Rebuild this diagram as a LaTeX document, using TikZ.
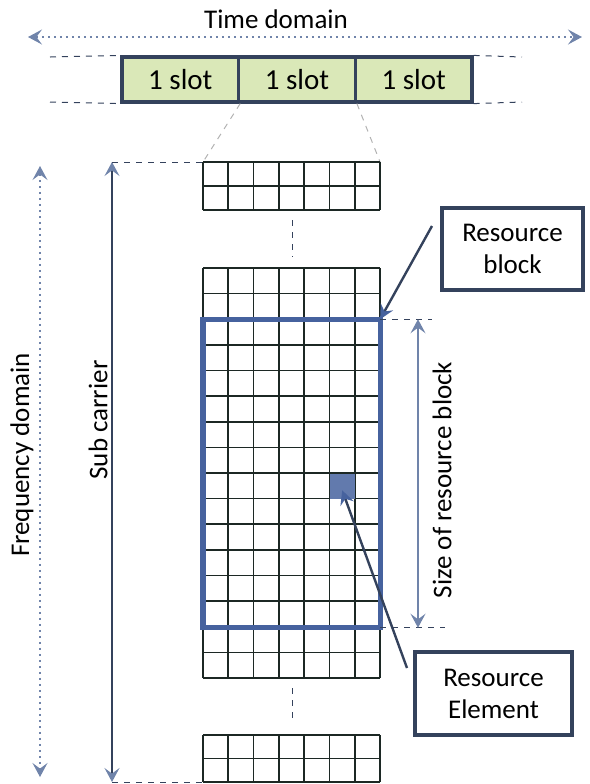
\documentclass[tikz,border=0pt]{standalone}
\usepackage{fontspec}
\setmainfont{Carlito}
\usetikzlibrary{arrows.meta,positioning}

\definecolor{rbblue}{RGB}{70,98,158}
\definecolor{boxedge}{RGB}{52,66,92}
\definecolor{slotfill}{RGB}{218,232,184}
\definecolor{axisgray}{RGB}{112,132,170}
\definecolor{gridink}{RGB}{28,40,36}

\begin{document}
\begin{tikzpicture}[
    x=0.5pt, y=-0.5pt,
    font=\fontsize{13.5}{16}\selectfont,
    tip/.style={-{Stealth[length=7pt,width=7pt,inset=2.5pt,color=rbblue]}},
    biaxis/.style={{Stealth[length=7pt,width=7.5pt,inset=2.8pt,color=axisgray]}-{Stealth[length=7pt,width=7.5pt,inset=2.8pt,color=axisgray]}, axisgray, line width=0.6pt},
    dotaxis/.style={biaxis, dash pattern=on 1pt off 2pt},
    guide/.style={dashed, boxedge, line width=0.5pt},
    gridline/.style={gridink, line width=0.85pt},
    slotbox/.style={draw=boxedge, line width=1.6pt, fill=slotfill, minimum width=58.3pt, minimum height=22.5pt, inner sep=0pt, font=\fontsize{14.5}{16}\selectfont},
    callout/.style={draw=boxedge, line width=1.6pt, fill=white, align=center, inner sep=0pt},
    pointer/.style={tip, boxedge, line width=1.2pt}
  ]
  \useasboundingbox (0,0) rectangle (590,784);

  % time axis and slots
  \node (time) at (276,19) {Time domain};
  \coordinate (tdL) at (28,37);
  \coordinate (tdR) at (582,37);
  \draw[dotaxis] (tdL) -- (tdR);
  \node[slotbox] (s1) at (180.3,79.5) {1 slot};
  \node[slotbox] (s2) at (297,79.5) {1 slot};
  \node[slotbox] (s3) at (413.7,79.5) {1 slot};
  \coordinate (slL1) at (50,57);
  \coordinate (slL2) at (50,102);
  \coordinate (slR1) at (522,57);
  \coordinate (slR2) at (522,102);
  \draw[guide] (slL1) -- (s1.north west);
  \draw[guide] (slL2) -- (s1.south west);
  \draw[guide] (s3.north east) -- (slR1);
  \draw[guide] (s3.south east) -- (slR2);

  % top grid
  \coordinate (gtl) at (203,162);
  \coordinate (gtr) at (380.1,162);
  \draw[guide, gray!60] (s1.south east) -- (gtl);
  \draw[guide, gray!60] (s2.south east) -- (gtr);
  \foreach \i in {0,...,7}
    \draw[gridline] ({203+25.3*\i},162) -- ({203+25.3*\i},210);
  \foreach \j in {0,1,2}
    \draw[gridline] (203,{162+24*\j}) -- (380.1,{162+24*\j});

  % middle grid
  \foreach \i in {0,...,7}
    \draw[gridline] ({203+25.3*\i},268) -- ({203+25.3*\i},678);
  \foreach \j in {0,...,16}
    \draw[gridline] (203,{268+25.625*\j}) -- (380.1,{268+25.625*\j});

  % bottom grid
  \foreach \i in {0,...,7}
    \draw[gridline] ({203+25.3*\i},735) -- ({203+25.3*\i},782);
  \foreach \j in {0,1,2}
    \draw[gridline] (203,{735+23.5*\j}) -- (380.1,{735+23.5*\j});

  \coordinate (gd1) at (292,220);
  \coordinate (gd2) at (292,257);
  \coordinate (gd3) at (292,688);
  \coordinate (gd4) at (292,723);
  \draw[guide] (gd1) -- (gd2);
  \draw[guide] (gd3) -- (gd4);

  % resource block and element
  \coordinate (rbNW) at (203,319.25);
  \coordinate (rbNE) at (380.1,319.25);
  \coordinate (rbSE) at (380.1,627.75);
  \draw[rbblue, line width=2.6pt] (rbNW) rectangle (rbSE);
  \node[fill=rbblue!85, minimum width=12.65pt, minimum height=12.8pt, inner sep=0pt] (re) at (342.25,486.4) {};

  % callouts
  \node[callout, minimum width=70.5pt, minimum height=41pt] (rb) at (512.5,249) {Resource\\block};
  \node[callout, minimum width=78.5pt, minimum height=41.5pt] (rel) at (493.5,693.5) {Resource\\Element};
  \coordinate (rbtail) at (432,226);
  \coordinate (retail) at (407,668);
  \draw[pointer] (rbtail) -- (rbNE);
  \draw[pointer] (retail) -- ([yshift=-2pt]re.center);

  % size of resource block
  \coordinate (szt) at (432,319.25);
  \coordinate (szb) at (445,627.75);
  \draw[guide] (rbNE) -- (szt);
  \draw[guide] (rbSE) -- (szb);
  \coordinate (sz1) at (418,319.25);
  \coordinate (sz2) at (418,627.75);
  \draw[biaxis] (sz1) -- (sz2);
  \node[rotate=90] (szlab) at (442,480) {Size of resource block};

  % frequency axes
  \coordinate (fq1) at (40,166);
  \coordinate (fq2) at (40,777);
  \draw[dotaxis] (fq1) -- (fq2);
  \node[rotate=90] (fqlab) at (22,455) {Frequency domain};
  \coordinate (sc1) at (112,162);
  \coordinate (sc2) at (112,782);
  \draw[biaxis, boxedge] (sc1) -- (sc2);
  \node[rotate=90] (sclab) at (98,420) {Sub carrier};
  \draw[guide] (sc1) -- (gtl);
  \coordinate (gbl) at (203,782);
  \draw[guide] (sc2) -- (gbl);
\end{tikzpicture}
\end{document}
